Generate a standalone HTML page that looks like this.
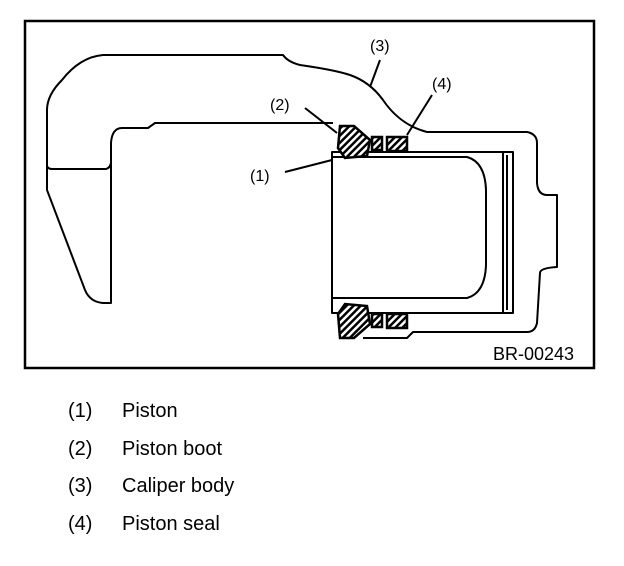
<!DOCTYPE html>
<html><head><style>
html,body{margin:0;padding:0;background:#fff;}
svg{display:block}
</style></head><body>
<svg width="624" height="566" viewBox="0 0 624 566" xmlns="http://www.w3.org/2000/svg" font-family="Liberation Sans, sans-serif">
<defs>
<pattern id="h" width="5" height="5" patternUnits="userSpaceOnUse" patternTransform="rotate(45)">
<rect width="5" height="5" fill="#fff"/><rect width="2.5" height="5" fill="#000"/>
</pattern>
</defs>
<rect x="25" y="21" width="569" height="347" fill="none" stroke="#000" stroke-width="2.5"/>
<g fill="none" stroke="#000" stroke-width="2" stroke-linejoin="round">
<!-- caliper body outer -->
<path d="M103 55 L283 55 Q288 62 300 65 Q335 70 350 75 Q370 82 383 100 Q400 125 427 132 L527 132 Q537 134 537 143 L537 183 Q538 195 547 195 L557 195 L557 267 Q540 268 540 273 L537 323 Q535 332 527 332 L413 332 L407 338 L363 338"/>
<path d="M103 55 Q80 57 62 80 Q47 95 47 110 L47 190 L85 290 Q90 302 103 303 L111 303 L111 143 Q112 128 122 128 L148 128 L155 123 L333 123"/>
<path d="M47 166 Q48 169 52 169 L106 169 Q110 168 111 163"/>
<!-- piston -->
<rect x="332" y="152" width="181" height="161"/>
<path d="M332 157 L467 157 Q485 162 486 190 L486 265 Q485 293 467 298 L332 298"/>
<path d="M503 153 L503 312 M507 155 L507 310"/>
<!-- leaders -->
<path d="M380 60 L370 87 M432 95 L407 135 M305 108 L337 133 M285 172 L332 160"/>
</g>
<!-- seals top -->
<g stroke="#000" stroke-width="2.5" fill="url(#h)">
<path d="M340 126 L354 126 L370 140 L367 156 L345 158 L338 148 Z"/>
<rect x="372" y="137" width="10" height="13"/>
<rect x="387" y="137" width="20" height="14"/>
<path d="M340 338 L354 338 L370 324 L367 306 L345 304 L338 314 Z"/>
<rect x="372" y="314" width="10" height="13"/>
<rect x="387" y="314" width="20" height="14"/>
</g>
<g font-size="16" fill="#000">
<text x="370" y="51">(3)</text>
<text x="432" y="89">(4)</text>
<text x="270" y="110">(2)</text>
<text x="250" y="181">(1)</text>
<text x="493" y="360" font-size="18">BR-00243</text>
</g>
<g font-size="20" fill="#000">
<text x="68" y="417">(1)</text><text x="122" y="417">Piston</text>
<text x="68" y="455">(2)</text><text x="122" y="455">Piston boot</text>
<text x="68" y="492">(3)</text><text x="122" y="492">Caliper body</text>
<text x="68" y="530">(4)</text><text x="122" y="530">Piston seal</text>
</g>
</svg>
</body></html>
